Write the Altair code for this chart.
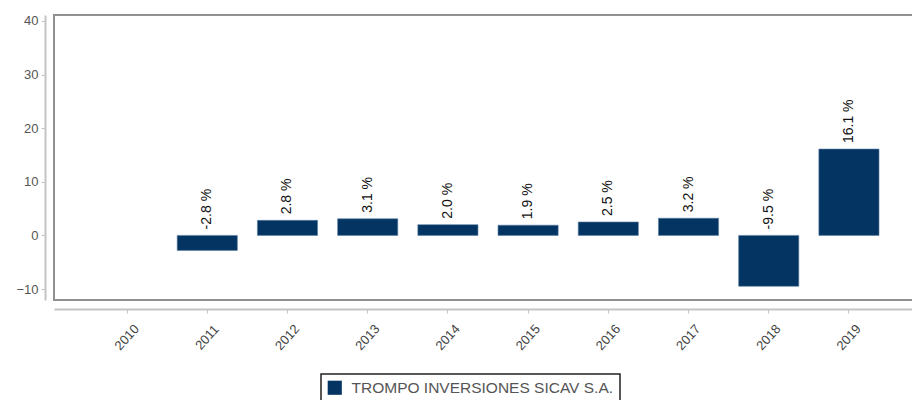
import altair as alt
import pandas as pd

years = ["2010", "2011", "2012", "2013", "2014", "2015", "2016", "2017", "2018", "2019"]
values = [None, -2.8, 2.8, 3.1, 2.0, 1.9, 2.5, 3.2, -9.5, 16.1]
series_name = "TROMPO INVERSIONES SICAV S.A."
y_ticks = [-10, 0, 10, 20, 30, 40]

rows = []
for y, v in zip(years, values):
    rows.append({
        "year": y,
        "value": v,
        "label_pos": (max(v, 0) if v is not None else None),
        "label": (f"{v:.1f} %" if v is not None else ""),
        "series": series_name,
    })
df = pd.DataFrame(rows)

FONT = "Liberation Sans"
BAR = "#033462"

x_enc = alt.X(
    "year:N",
    sort=years,
    scale=alt.Scale(paddingInner=0.25, paddingOuter=0.536),
    axis=alt.Axis(
        title=None, labelAngle=-48, labelAlign="center", labelBaseline="middle",
        offset=9, domainColor="#c4c4c4", domainWidth=2,
        tickColor="#c4c4c4", tickSize=4, labelColor="#444444", labelFontSize=13,
        labelFont=FONT, labelPadding=24, grid=False,
    ),
)
y_scale = alt.Scale(domain=[-12.05, 41.1], nice=False, zero=False)

bars = alt.Chart(df).mark_bar(stroke="#5a7fa6", strokeWidth=0.6).encode(
    x=x_enc,
    y=alt.Y(
        "value:Q",
        scale=y_scale,
        axis=alt.Axis(
            title=None, values=y_ticks, offset=9, domainColor="#c4c4c4", domainWidth=2,
            tickColor="#c4c4c4", tickSize=4, labelColor="#555555", labelFontSize=13,
            labelFont=FONT, labelPadding=3, grid=False,
        ),
    ),
    color=alt.Color(
        "series:N",
        scale=alt.Scale(range=[BAR]),
        legend=alt.Legend(
            title=None, orient="none", legendX=267, legendY=359,
            strokeColor="#222222", padding=6,
            symbolType="square", symbolSize=200, symbolStrokeWidth=0,
            labelFontSize=15.5, labelFont=FONT, labelColor="#555555",
            labelLimit=600, labelOffset=9,
            fillColor="white",
        ),
    ),
)

labels = alt.Chart(df).mark_text(
    angle=270, align="left", baseline="middle", dx=6, fontSize=14,
    font=FONT, color="#111111",
).encode(
    x=alt.X("year:N", sort=years),
    y=alt.Y("label_pos:Q", scale=y_scale),
    text="label:N",
)

chart = (bars + labels).properties(
    width=868,
    height=285,
    background="white",
    autosize=alt.AutoSizeParams(type="none"),
    padding={"left": 46, "top": 7, "right": -10, "bottom": 100},
).configure_view(
    stroke="#909090", strokeWidth=2,
).configure_legend(
    strokeWidth=1.5,
)

chart.save("out.html", embed_options={"renderer": "svg", "actions": False})
